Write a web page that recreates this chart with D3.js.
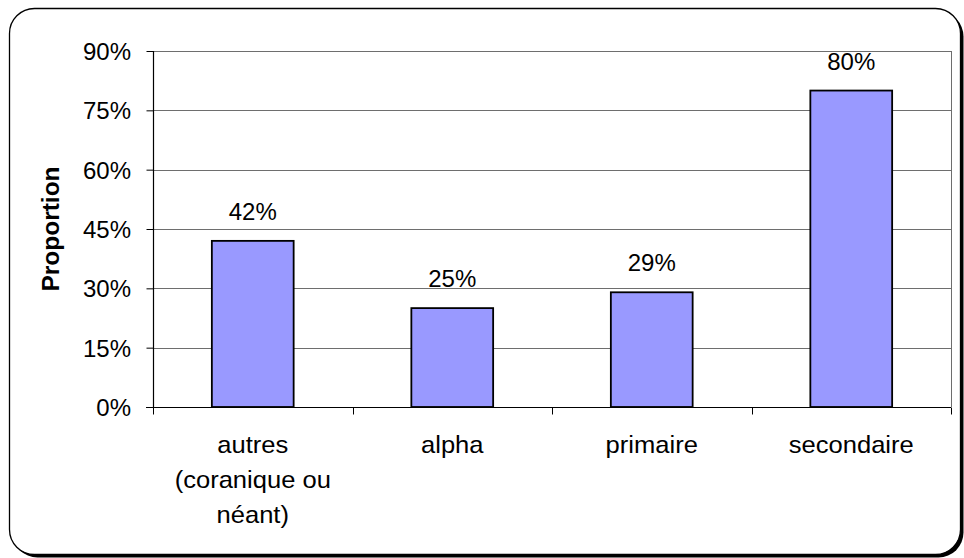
<!DOCTYPE html>
<html>
<head>
<meta charset="utf-8">
<script src="https://cdn.jsdelivr.net/npm/d3@7/dist/d3.min.js"></script>
<style>
  html, body { margin: 0; padding: 0; background: #fff; }
  svg { display: block; }
  text { font-family: "Liberation Sans", Arial, sans-serif; fill: #000; }
</style>
</head>
<body>
<svg id="chart" width="964" height="558"></svg>
<script>
// Education level categories (multi-line labels) and their proportions
const categories = ["autres (coranique ou néant)", "alpha", "primaire", "secondaire"];
const categoryLines = [["autres", "(coranique ou", "néant)"], ["alpha"], ["primaire"], ["secondaire"]];
const values = [0.42, 0.25, 0.29, 0.80];
const yTicks = [0, 0.15, 0.30, 0.45, 0.60, 0.75, 0.90];
const yTitle = "Proportion";

const plot = { left: 153, right: 951, top: 51, bottom: 407 };
const fontSize = 24;
const wordStretch = 1.065; // horizontal widening of word labels

const svg = d3.select("#chart");

// Outer frame with a hard drop shadow
svg.append("rect")
  .attr("x", 12.5).attr("y", 11.5).attr("width", 951).attr("height", 546)
  .attr("rx", 25).attr("ry", 25).attr("fill", "#000");
svg.append("rect")
  .attr("x", 9.5).attr("y", 8.5).attr("width", 951).attr("height", 546)
  .attr("rx", 25).attr("ry", 25).attr("fill", "#fff")
  .attr("stroke", "#000").attr("stroke-width", 1.3);

const x = d3.scaleBand().domain(categories).range([plot.left, plot.right]).padding(0);
const y = d3.scaleLinear().domain([0, 0.9]).range([plot.bottom, plot.top]);
const fmt = d3.format(".0%");

// Horizontal gridlines
svg.append("g")
  .selectAll("line").data(yTicks.filter(d => d > 0)).join("line")
  .attr("x1", plot.left).attr("x2", plot.right)
  .attr("y1", d => Math.round(y(d)) + 0.5).attr("y2", d => Math.round(y(d)) + 0.5)
  .attr("stroke", "#6e6e6e").attr("stroke-width", 1);

// Right edge of the plot area
svg.append("line")
  .attr("x1", plot.right + 0.5).attr("x2", plot.right + 0.5)
  .attr("y1", plot.top).attr("y2", plot.bottom)
  .attr("stroke", "#6e6e6e").attr("stroke-width", 1);

// Bars
const barFrac = 0.41;
svg.append("g")
  .selectAll("rect").data(values).join("rect")
  .attr("x", (d, i) => x(categories[i]) + x.bandwidth() * (1 - barFrac) / 2)
  .attr("width", x.bandwidth() * barFrac)
  .attr("y", d => y(d))
  .attr("height", d => y(0) - y(d))
  .attr("fill", "#9999ff")
  .attr("stroke", "#000").attr("stroke-width", 1.8);

// Value labels above bars
svg.append("g")
  .selectAll("text").data(values).join("text")
  .attr("x", (d, i) => x(categories[i]) + x.bandwidth() / 2)
  .attr("y", d => y(d) - 21)
  .attr("text-anchor", "middle")
  .style("font-size", fontSize + "px")
  .text(d => fmt(d));

// Y axis
const yAxis = svg.append("g")
  .attr("transform", `translate(${plot.left + 0.5},0)`)
  .call(d3.axisLeft(y).tickValues(yTicks).tickFormat(fmt).tickSize(7).tickPadding(15));
yAxis.select(".domain").attr("stroke", "#000").attr("stroke-width", 1.2)
  .attr("d", `M0,${plot.top}V${plot.bottom}`);
yAxis.selectAll(".tick line").attr("stroke", "#000");
yAxis.selectAll(".tick text")
  .attr("font-family", null)
  .style("font-size", fontSize + "px")
  .attr("dy", "0.35em")
  .attr("x", -22.5);

// X axis: line with ticks at category boundaries
const xAxis = svg.append("g").attr("transform", `translate(0,${plot.bottom + 0.5})`);
xAxis.append("line")
  .attr("x1", plot.left - 7).attr("x2", plot.right)
  .attr("stroke", "#000").attr("stroke-width", 1.2);
const bounds = categories.map(c => x(c)).concat([x.range()[1]]);
xAxis.selectAll("line.tick").data(bounds).join("line").attr("class", "tick")
  .attr("x1", d => Math.round(d) + 0.5).attr("x2", d => Math.round(d) + 0.5)
  .attr("y1", 0).attr("y2", 7)
  .attr("stroke", "#000").attr("stroke-width", 1);

// Category labels
const catLabels = svg.append("g").selectAll("text").data(categories).join("text")
  .attr("transform", (d, i) => `translate(${x(d) + x.bandwidth() / 2},453) scale(${wordStretch},1)`)
  .attr("text-anchor", "middle")
  .style("font-size", fontSize + "px");
catLabels.each(function(d, i) {
  d3.select(this).selectAll("tspan").data(categoryLines[i]).join("tspan")
    .attr("x", 0).attr("y", (l, j) => j * 35)
    .text(l => l);
});

// Y axis title
svg.append("text")
  .attr("transform", `translate(59,${(plot.top + plot.bottom) / 2}) rotate(-90) scale(${wordStretch},1)`)
  .attr("text-anchor", "middle")
  .style("font-size", "23px")
  .style("font-weight", "bold")
  .text(yTitle);
</script>
</body>
</html>
